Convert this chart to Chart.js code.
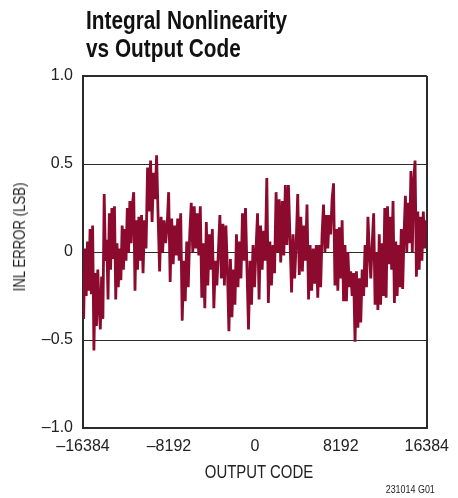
<!DOCTYPE html>
<html>
<head>
<meta charset="utf-8">
<script src="https://cdn.jsdelivr.net/npm/chart.js@4.4.1/dist/chart.umd.min.js"></script>
<style>
  html, body { margin: 0; padding: 0; background: #fff; }
  #wrap { position: relative; width: 458px; height: 498px; }
  #chart { position: absolute; left: 0; top: 0; }
  /* 細字体が無いので Liberation Sans を横方向に縮めて代用 */
  .g-title { position: absolute; left: 86px; top: 6px; white-space: nowrap; transform: scaleX(0.8); transform-origin: 0 0;
    font: bold 26px/28px "Liberation Sans", Arial, sans-serif; color: #111; }
  .g-ylabel { position: absolute; left: 18.5px; top: 237px; white-space: nowrap; line-height: 16px;
    transform: translate(-50%, -50%) rotate(-90deg) scaleX(0.8);
    font-family: "Liberation Sans", Arial, sans-serif; font-size: 16.5px; color: #222; }
  .g-xlabel { position: absolute; left: 258.5px; top: 471.5px; white-space: nowrap; line-height: 18px;
    transform: translate(-50%, -50%) scaleX(0.83);
    font-family: "Liberation Sans", Arial, sans-serif; font-size: 18px; color: #222; }
  .g-note { position: absolute; right: 23px; top: 483px; white-space: nowrap; transform: scaleX(0.85); transform-origin: 100% 0;
    font: 10.5px "Liberation Sans", Arial, sans-serif; color: #222; }
</style>
</head>
<body>
<div id="wrap">
  <canvas id="chart" width="458" height="498"></canvas>
  <div class="g-title">Integral Nonlinearity<br>vs Output Code</div>
  <div class="g-ylabel">INL ERROR (LSB)</div>
  <div class="g-xlabel">OUTPUT CODE</div>
  <div class="g-note">231014 G01</div>
</div>
<script>
// 目盛り
const xTicks = [-16384, -8192, 0, 8192, 16384];
const yTicks = [-1.0, -0.5, 0, 0.5, 1.0];

// 区間の境界（コード）と各区間の INL 値
const segEdges = [-16384, -10876, -5275, 326, 5927, 11528, 16384];
const inlSeg1 = [-0.38, 0.02, -0.25, 0.06, -0.22, 0.13, -0.24, 0.15, -0.56, -0.12, -0.42, -0.1, -0.3, -0.44, -0.14, -0.38,
  0.33, -0.05, 0.07, -0.27, 0.22, -0.1, 0.25, -0.04, 0.26, -0.27, 0.05, -0.2, 0.02, -0.16, 0.15, -0.1, 0.13, -0.05,
  0.25, 0.0, 0.29, 0.05, 0.27, 0.34, -0.22, 0.18, -0.1, 0.2, -0.05];
const inlSeg2 = [0.21, -0.12, 0.18, 0.02, 0.48, 0.23, 0.52, 0.17, 0.45, 0.3, 0.55, 0.2, -0.11, 0.2, 0.0, 0.18, 0.05, 0.15,
  0.34, -0.17, 0.19, -0.07, 0.15, -0.02, 0.19, -0.05, 0.22, -0.39, -0.05, -0.28, 0.06, -0.2, 0.1, 0.28, 0.0, 0.26, 0.02,
  0.22, -0.02];
const inlSeg3 = [0.26, -0.26, 0.05, -0.32, 0.17, -0.19, 0.1, -0.1, 0.13, -0.32, -0.05, -0.19, 0.0, 0.21, -0.15, 0.16, -0.19,
  0.15, -0.1, -0.45, -0.04, -0.37, -0.1, -0.3, 0.1, -0.2, 0.06, -0.15, 0.22, -0.05, 0.25, -0.1, -0.44, -0.05, -0.3, 0.04,
  -0.2, 0.02, 0.22];
const inlSeg4 = [-0.27, 0.15, -0.1, 0.12, -0.05, 0.42, -0.29, 0.06, -0.19, 0.04, -0.12, 0.34, 0.0, 0.3, -0.06, 0.29, -0.02,
  0.38, 0.04, 0.38, 0.08, -0.23, 0.1, -0.15, 0.05, 0.33, -0.13, 0.2, -0.11, 0.15, -0.05, 0.27, -0.27, 0.04, -0.22, 0.02,
  -0.18, 0.04];
const inlSeg5 = [-0.26, 0.04, -0.2, 0.1, 0.27, 0.0, 0.21, 0.02, 0.21, 0.1, 0.3, 0.39, -0.19, 0.13, -0.22, 0.14, -0.15, 0.18,
  -0.28, 0.04, -0.28, 0.0, -0.2, -0.11, -0.25, -0.12, -0.51, -0.11, -0.43, -0.15, -0.4, -0.1, -0.25, 0.04, -0.2, 0.2, 0.0,
  -0.15, 0.05, 0.22, -0.3];
const inlSeg6 = [0.0, -0.33, 0.1, -0.3, 0.05, -0.25, 0.25, -0.26, 0.26, -0.07, 0.2, -0.1, 0.29, -0.29, 0.06, -0.25, 0.04,
  -0.2, 0.13, -0.21, 0.1, 0.32, 0.0, 0.28, 0.05, 0.46, 0.0, 0.4, 0.52, -0.14, 0.23, -0.1, 0.2, -0.05, 0.23, 0.02, 0.18];

const segments = [inlSeg1, inlSeg2, inlSeg3, inlSeg4, inlSeg5, inlSeg6];
const points = [];
segments.forEach((vals, s) => {
  const a = segEdges[s], b = segEdges[s + 1];
  vals.forEach((v, i) => points.push({ x: a + (b - a) * (i + 0.5) / vals.length, y: v }));
});

// 負号は長いダッシュで表示
const fmtX = v => (v < 0 ? '\u2013' + Math.abs(v) : String(v));
const fmtY = v => (v === 0 ? '0' : (v < 0 ? '\u2013' : '') + Math.abs(v).toFixed(1));
const LINE = '#2b2b2b';
const edge = (ctx, n) => ctx.index === 0 || ctx.index === n - 1;

new Chart(document.getElementById('chart'), {
  type: 'line',
  data: {
    datasets: [{
      data: points,
      borderColor: '#8b0a2e',
      borderWidth: 2.8,
      pointRadius: 0,
      tension: 0,
      fill: false,
    }]
  },
  options: {
    responsive: false,
    animation: false,
    layout: { padding: { top: 76, right: 24, left: 0, bottom: 0 } },
    plugins: { legend: { display: false }, tooltip: { enabled: false } },
    scales: {
      x: {
        type: 'linear', min: -16384, max: 16384,
        afterBuildTicks: sc => { sc.ticks = xTicks.map(v => ({ value: v })); },
        afterFit: sc => { sc.height = 70; },
        ticks: {
          callback: v => fmtX(v), padding: 9, maxRotation: 0, autoSkip: false,
          color: '#222', font: { family: '"Liberation Sans", Arial, sans-serif', size: 16 },
        },
        grid: {
          drawTicks: false,
          color: ctx => edge(ctx, xTicks.length) ? LINE : 'rgba(0,0,0,0)',
          lineWidth: ctx => edge(ctx, xTicks.length) ? 2 : 0,
        },
        border: { display: true, color: LINE, width: 2 },
      },
      y: {
        min: -1, max: 1,
        afterBuildTicks: sc => { sc.ticks = yTicks.map(v => ({ value: v })); },
        afterFit: sc => { sc.width = 83; },
        ticks: {
          callback: v => fmtY(v),
          padding: 10, color: '#222',
          font: { family: '"Liberation Sans", Arial, sans-serif', size: 16 },
        },
        grid: {
          drawTicks: false,
          color: LINE,
          lineWidth: ctx => edge(ctx, yTicks.length) ? 2 : 1,
        },
        border: { display: true, color: LINE, width: 2 },
      },
    },
  },
});
</script>
</body>
</html>
